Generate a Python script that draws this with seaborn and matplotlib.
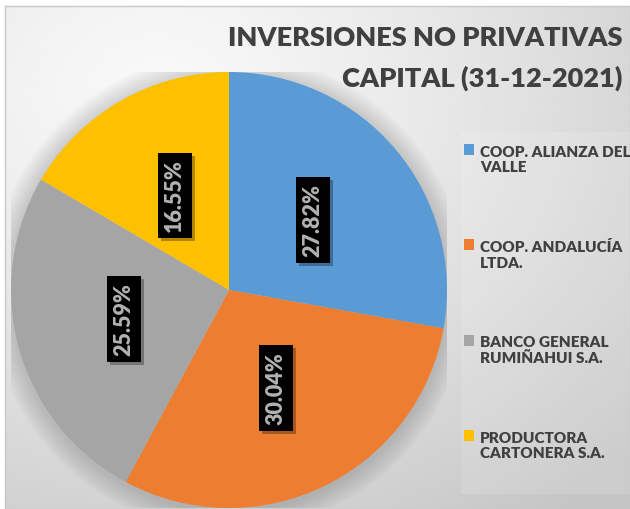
import numpy as np
import seaborn as sns
import matplotlib.pyplot as plt
from matplotlib.patches import Circle, Rectangle

# values
entities = ['COOP. ALIANZA DEL\nVALLE', 'COOP. ANDALUCÍA\nLTDA.',
            'BANCO GENERAL\nRUMIÑAHUI S.A.', 'PRODUCTORA\nCARTONERA S.A.']
shares = [27.82, 30.04, 25.59, 16.55]
share_labels = ['27.82%', '30.04%', '25.59%', '16.55%']
colors = ['#5B9BD5', '#ED7D31', '#A5A5A5', '#FFC000']
title_lines = ['INVERSIONES NO PRIVATIVAS', 'CAPITAL (31-12-2021)']

sns.set_theme(style='white')
plt.rcParams['font.family'] = ['Lato', 'DejaVu Sans']
palette = sns.color_palette(colors)
WEIGHT = 'heavy'

W, H = 630, 509
fig = plt.figure(figsize=(W / 100, H / 100), dpi=100)
fig.patch.set_facecolor('white')

# soft radial gray background inside a thin frame
bg = fig.add_axes([5 / W, 0, 1 - 5 / W, 1 - 6 / H], zorder=0)
yy, xx = np.mgrid[0:300, 0:370]
d = np.hypot((xx - 90) / 370, (yy - 50) / 300)
shade = 0.975 - 0.2 * np.clip(d / 1.05, 0, 1) ** 1.3
bg.imshow(shade, cmap='gray', vmin=0, vmax=1, aspect='auto',
          extent=(0, 1, 0, 1), origin='upper', interpolation='bicubic')
bg.add_patch(Rectangle((0.73, 0.03), 0.27, 0.72, transform=bg.transAxes,
                       color='white', alpha=0.12, lw=0))
bg.set_xticks([]); bg.set_yticks([])
for s in bg.spines.values():
    s.set_color('#c8c8c8'); s.set_linewidth(1)

# pie axes: centre (229, 290) px, radius 218 px
cx, cy, r = 229, 290, 218
ax = fig.add_axes([(cx - r) / W, (H - cy - r) / H, 2 * r / W, 2 * r / H], zorder=1)
ax.patch.set_alpha(0)
for k in range(8):
    ax.add_patch(Circle((0, -0.01), 1.0 + 0.012 * (k + 1), color='black',
                        alpha=0.018, lw=0, zorder=0))

wedges, texts = ax.pie(shares, colors=palette, startangle=90, counterclock=False,
                       labels=share_labels, labeldistance=0.5,
                       wedgeprops=dict(linewidth=0))
for t in texts:
    t.set_rotation(90)
    t.set_ha('center'); t.set_va('center')
    t.set_fontsize(15.5); t.set_fontweight(WEIGHT); t.set_color('white')
    t.set_zorder(3)
    t.set_bbox(dict(boxstyle='square,pad=0.3', fc='black', ec='none'))
ax.set_xlim(-1, 1); ax.set_ylim(-1, 1)
ax.set_aspect('equal')

# legend on the right
leg = fig.legend(wedges, entities, loc='upper left',
                 bbox_to_anchor=(450 / W, 1 - 132 / H), frameon=False,
                 prop=dict(size=11, weight=WEIGHT), labelcolor='#404040',
                 handlelength=0.7, handleheight=0.7, handletextpad=0.35,
                 labelspacing=4.35)
for p in leg.get_patches():
    p.set_y(p.get_y() + 7.5)

# title, right aligned
t1 = fig.text(622 / W, 1 - 38 / H, title_lines[0], ha='right', va='center',
              fontsize=21, fontweight=WEIGHT, color='#404040', zorder=5)
t2 = fig.text(622 / W, 1 - 78 / H, title_lines[1], ha='right', va='center',
              fontsize=21, fontweight=WEIGHT, color='#404040', zorder=5)
fig.canvas.draw()
scale = 395 / t1.get_window_extent().width
for t in (t1, t2):
    t.set_fontsize(21 * scale)

# drop shadows behind the black label boxes
fig.canvas.draw()
for t in texts:
    bb = t.get_bbox_patch().get_window_extent()
    fig.add_artist(Rectangle((bb.x0 + 3, bb.y0 - 3), bb.width, bb.height,
                             transform=None, fc='black', alpha=0.3, lw=0,
                             zorder=1.5))

fig.savefig('out.png', dpi=100)
